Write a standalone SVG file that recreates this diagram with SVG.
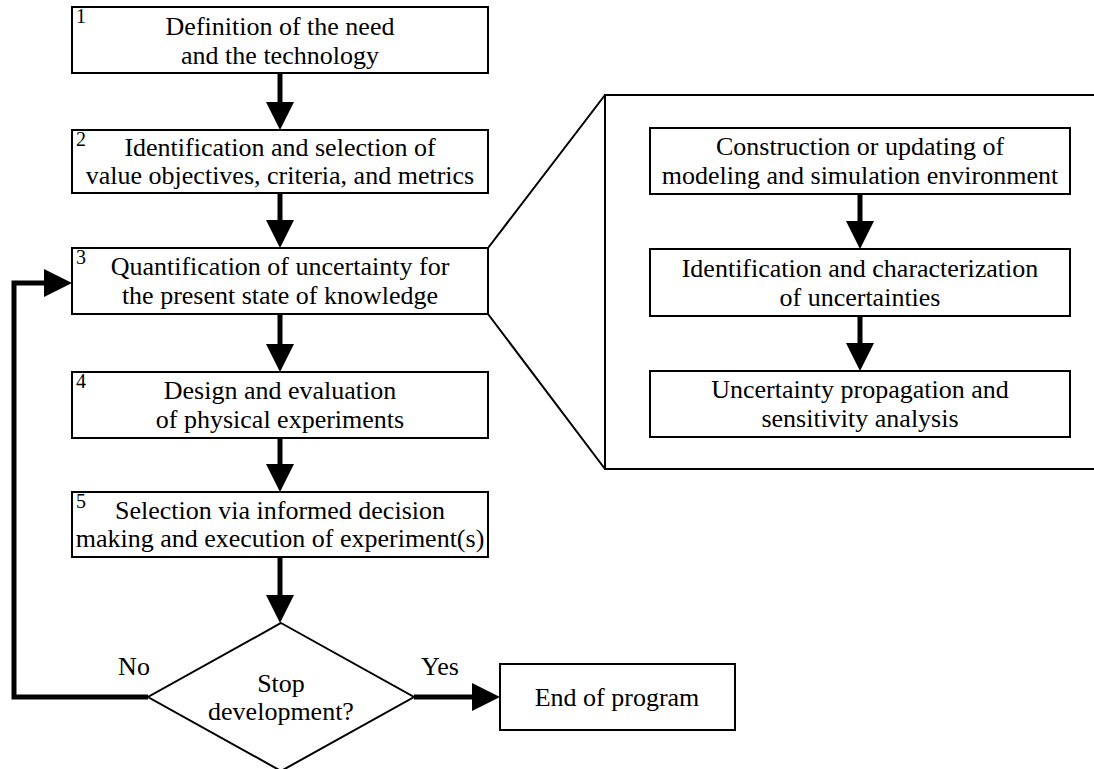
<svg xmlns="http://www.w3.org/2000/svg" width="1094" height="769" viewBox="0 0 1094 769">
  <style>
    .box { fill: #fff; stroke: #000; stroke-width: 2; }
    .edge { fill: none; stroke: #000; stroke-width: 2; }
    .flow { fill: none; stroke: #000; stroke-width: 5; marker-end: url(#head); }
    text { font-family: 'Liberation Serif', 'DejaVu Serif', serif; fill: #000; }
    .label { font-size: 26px; text-anchor: middle; }
    .num { font-size: 20px; }
  </style>
  <defs>
    <!-- solid triangular arrowhead, drawn beyond the end of the shaft -->
    <marker id="head" markerUnits="userSpaceOnUse" markerWidth="29" markerHeight="29" refX="0" refY="14" orient="auto" overflow="visible">
      <path d="M0,0 L28,14 L0,28 Z" fill="#000"/>
    </marker>
  </defs>

  <rect width="1094" height="769" fill="#fff"/>

  <!-- zoom-out panel detailing step 3 -->
  <g id="detail-panel">
    <path class="edge" d="M488,248 L605,95 M488,314 L605,469"/>
    <rect class="box" x="605" y="95" width="500" height="374"/>
  </g>

  <!-- connectors -->
  <g id="connectors">
    <path class="flow" d="M280,73 V102"/>
    <path class="flow" d="M280,193 V220"/>
    <path class="flow" d="M280,314 V344"/>
    <path class="flow" d="M280,438 V464"/>
    <path class="flow" d="M280,557 V595"/>
    <path class="flow" d="M860,194 V221"/>
    <path class="flow" d="M860,316 V343"/>
    <path class="flow" d="M148,697 H14 V283 H44"/>
    <path class="flow" d="M414,697 H472"/>
  </g>

  <g id="step1">
    <rect class="box" x="72" y="7" width="416" height="66"/>
    <text class="num" x="76" y="23">1</text>
    <text class="label" x="280" y="35">Definition of the need</text>
    <text class="label" x="280" y="64">and the technology</text>
  </g>

  <g id="step2">
    <rect class="box" x="72" y="130" width="416" height="63"/>
    <text class="num" x="76" y="146">2</text>
    <text class="label" x="280" y="156">Identification and selection of</text>
    <text class="label" x="280" y="184">value objectives, criteria, and metrics</text>
  </g>

  <g id="step3">
    <rect class="box" x="72" y="248" width="416" height="66"/>
    <text class="num" x="76" y="264">3</text>
    <text class="label" x="280" y="275">Quantification of uncertainty for</text>
    <text class="label" x="280" y="304">the present state of knowledge</text>
  </g>

  <g id="step4">
    <rect class="box" x="72" y="372" width="416" height="66"/>
    <text class="num" x="76" y="388">4</text>
    <text class="label" x="280" y="399">Design and evaluation</text>
    <text class="label" x="280" y="428">of physical experiments</text>
  </g>

  <g id="step5">
    <rect class="box" x="72" y="492" width="416" height="65"/>
    <text class="num" x="76" y="508">5</text>
    <text class="label" x="280" y="519">Selection via informed decision</text>
    <text class="label" x="280" y="547">making and execution of experiment(s)</text>
  </g>

  <g id="decision">
    <polygon class="box" points="281,623 414,697 281,771 148,697"/>
    <text class="label" x="281" y="692">Stop</text>
    <text class="label" x="281" y="720">development?</text>
  </g>

  <g id="branch-labels">
    <text class="label" x="134" y="675">No</text>
    <text class="label" x="440" y="675">Yes</text>
  </g>

  <g id="end">
    <rect class="box" x="500" y="664" width="235" height="66"/>
    <text class="label" x="617" y="706">End of program</text>
  </g>

  <g id="sub-a">
    <rect class="box" x="650" y="128" width="420" height="66"/>
    <text class="label" x="860" y="155">Construction or updating of</text>
    <text class="label" x="860" y="184">modeling and simulation environment</text>
  </g>

  <g id="sub-b">
    <rect class="box" x="650" y="249" width="420" height="67"/>
    <text class="label" x="860" y="277">Identification and characterization</text>
    <text class="label" x="860" y="306">of uncertainties</text>
  </g>

  <g id="sub-c">
    <rect class="box" x="650" y="371" width="420" height="66"/>
    <text class="label" x="860" y="398">Uncertainty propagation and</text>
    <text class="label" x="860" y="427">sensitivity analysis</text>
  </g>
</svg>
